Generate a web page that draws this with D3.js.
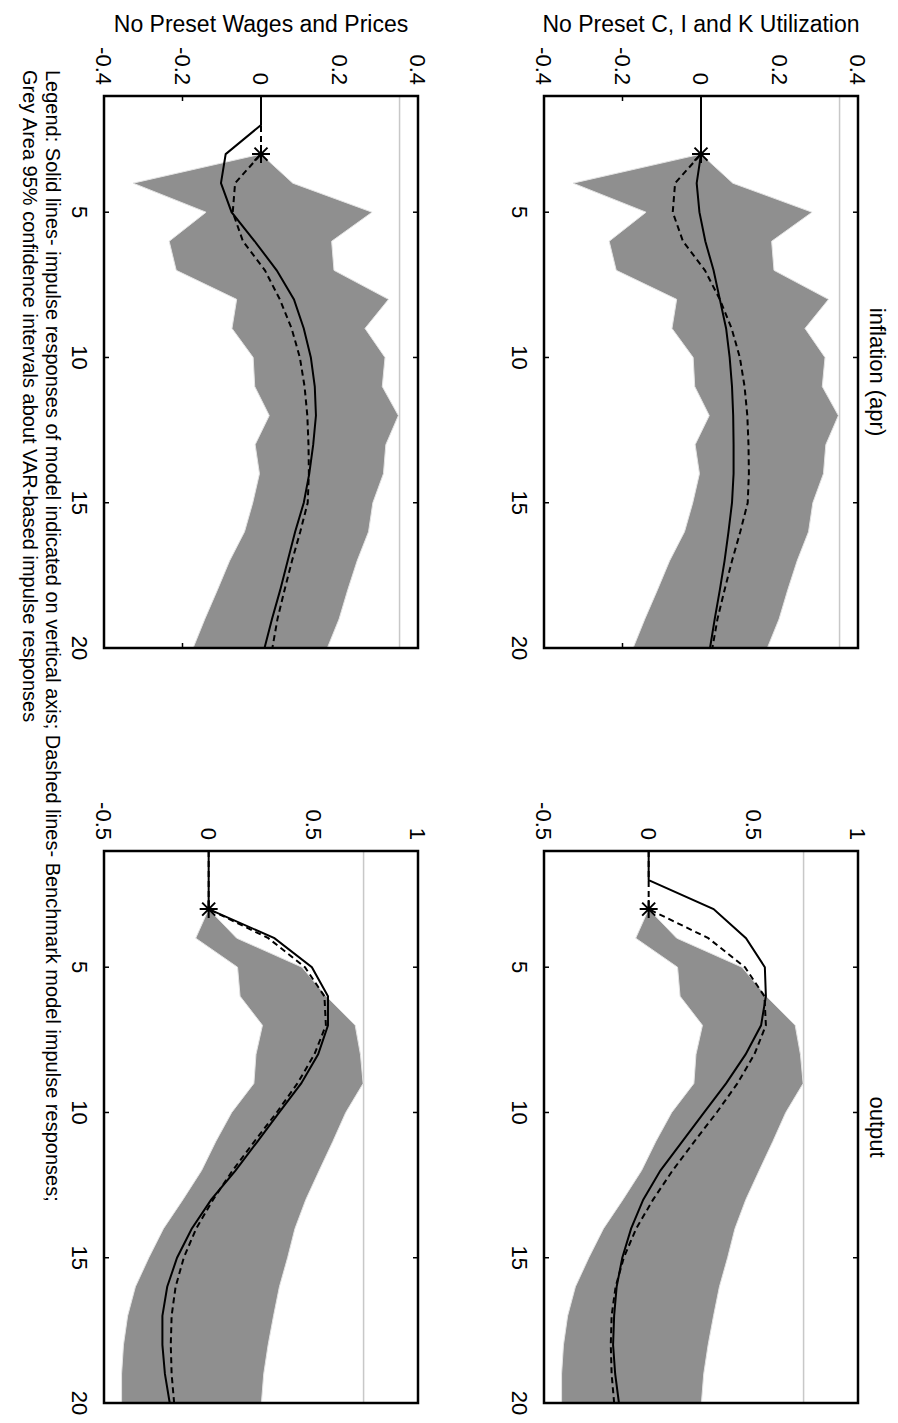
<!DOCTYPE html>
<html>
<head>
<meta charset="utf-8">
<script src="https://cdn.jsdelivr.net/npm/d3@7"></script>
<style>
body { margin: 0; background: #fff; }
svg { display: block; }
text { font-family: "Liberation Sans", Arial, sans-serif; fill: #000; }
</style>
</head>
<body>
<div id="chart"></div>
<script>
// horizons (quarters) on the shock axis
var horizons = [1,2,3,4,5,6,7,8,9,10,11,12,13,14,15,16,17,18,19,20];
var bandHorizons = [3,4,5,6,7,8,9,10,11,12,13,14,15,16,17,18,19,20];

// VAR 95% bands
var inflLower = [0,-0.326,-0.140,-0.234,-0.216,-0.062,-0.074,-0.020,-0.016,0.021,-0.015,-0.004,-0.021,-0.042,-0.080,-0.111,-0.143,-0.173];
var inflUpper = [0,0.081,0.283,0.180,0.186,0.325,0.265,0.316,0.309,0.350,0.318,0.312,0.285,0.274,0.245,0.221,0.199,0.169];
var outLower = [0,-0.062,0.138,0.150,0.257,0.226,0.216,0.110,0.034,-0.034,-0.123,-0.216,-0.286,-0.350,-0.387,-0.407,-0.416,-0.416];
var outUpper = [0,0.134,0.446,0.562,0.700,0.725,0.738,0.655,0.593,0.528,0.464,0.412,0.377,0.338,0.310,0.284,0.263,0.252];

// benchmark model (dashed)
var inflBench = [0,0,0,-0.066,-0.072,-0.046,0.010,0.048,0.078,0.099,0.111,0.118,0.121,0.122,0.119,0.100,0.079,0.060,0.042,0.029];
var outBench = [0,0,0,0.285,0.460,0.553,0.560,0.505,0.424,0.325,0.218,0.114,0.021,-0.060,-0.119,-0.158,-0.177,-0.181,-0.177,-0.165];

// alternative models (solid)
var inflCIK = [0,0,0,-0.011,-0.004,0.011,0.032,0.048,0.064,0.073,0.079,0.082,0.083,0.083,0.079,0.070,0.060,0.048,0.035,0.023];
var outCIK = [0,0,0.310,0.465,0.555,0.560,0.537,0.463,0.370,0.265,0.160,0.056,-0.026,-0.084,-0.126,-0.153,-0.165,-0.170,-0.160,-0.142];
var inflWP = [0,0,-0.090,-0.102,-0.075,-0.016,0.040,0.084,0.109,0.127,0.137,0.140,0.133,0.123,0.109,0.087,0.068,0.049,0.028,0.009];
var outWP = [0,0,0,0.314,0.493,0.570,0.570,0.523,0.442,0.337,0.233,0.128,0.012,-0.081,-0.151,-0.198,-0.221,-0.221,-0.209,-0.186];

var inflTicks = [-0.4,-0.2,0,0.2,0.4];
var outTicks = [-0.5,0,0.5,1];
var horizonTicks = [5,10,15,20];
var inflRef = 0.353, outRef = 0.74;

var W = 898, H = 1423;
var svg = d3.select("#chart").append("svg")
    .attr("width", W)
    .attr("height", H)

var panelW = 314, panelH = 552;
var colLeft = {wp: 104, cik: 544};
var rowTop = {infl: 96, out: 851};

var panels = [
  {model: "cik", v: "infl", lo: inflLower, hi: inflUpper, bench: inflBench, alt: inflCIK, dom: [-0.4,0.4], ticks: inflTicks, ref: inflRef, marks: [-0.2]},
  {model: "wp", v: "infl", lo: inflLower, hi: inflUpper, bench: inflBench, alt: inflWP, dom: [-0.4,0.4], ticks: inflTicks, ref: inflRef, marks: [-0.2]},
  {model: "cik", v: "out", lo: outLower, hi: outUpper, bench: outBench, alt: outCIK, dom: [-0.5,1], ticks: outTicks, ref: outRef, marks: []},
  {model: "wp", v: "out", lo: outLower, hi: outUpper, bench: outBench, alt: outWP, dom: [-0.5,1], ticks: outTicks, ref: outRef, marks: []}
];

panels.forEach(function(p) {
  var left = colLeft[p.model], top = rowTop[p.v];
  var x = d3.scaleLinear().domain(p.dom).range([left, left + panelW]);
  var y = d3.scaleLinear().domain([1, 20]).range([top, top + panelH]);
  var g = svg.append("g");

  // light reference line
  g.append("line")
    .attr("x1", x(p.ref)).attr("x2", x(p.ref))
    .attr("y1", top).attr("y2", top + panelH)
    .style("stroke", "#c8c8c8").style("stroke-width", 1.5)

  // inward tick marks
  horizonTicks.slice(0, 3).forEach(function(h) {
    g.append("line").attr("x1", left).attr("x2", left + 5).attr("y1", y(h)).attr("y2", y(h)).style("stroke", "#000").style("stroke-width", 1.5)
    g.append("line").attr("x1", left + panelW).attr("x2", left + panelW - 5).attr("y1", y(h)).attr("y2", y(h)).style("stroke", "#000").style("stroke-width", 1.5)
  });
  p.marks.forEach(function(v) {
    g.append("line").attr("x1", x(v)).attr("x2", x(v)).attr("y1", top).attr("y2", top + 5).style("stroke", "#000").style("stroke-width", 1.5)
    g.append("line").attr("x1", x(v)).attr("x2", x(v)).attr("y1", top + panelH).attr("y2", top + panelH - 5).style("stroke", "#000").style("stroke-width", 1.5)
  });

  // confidence band
  var pts = bandHorizons.map(function(h, i) { return [x(p.hi[i]), y(h)]; })
    .concat(bandHorizons.map(function(h, i) { return [x(p.lo[i]), y(h)]; }).reverse());
  g.append("path")
    .attr("d", d3.line()(pts) + "Z")
    .style("fill", "#8f8f8f")
    .style("stroke", "#e4e4e4")
    .style("stroke-width", 1)

  var line = d3.line()
    .x(function(d) { return x(d[1]); })
    .y(function(d) { return y(d[0]); });

  g.append("path")
    .attr("d", line(horizons.map(function(h, i) { return [h, p.bench[i]]; })))
    .style("fill", "none").style("stroke", "#000").style("stroke-width", 2)
    .style("stroke-dasharray", "6,4")

  g.append("path")
    .attr("d", line(horizons.map(function(h, i) { return [h, p.alt[i]]; })))
    .style("fill", "none").style("stroke", "#000").style("stroke-width", 2)

  // asterisk marker at impact of benchmark
  var sx = x(p.bench[2]), sy = y(horizons[2]), r = 9, r2 = 6.5;
  g.append("path")
    .attr("d", "M" + (sx - r) + "," + sy + "H" + (sx + r) +
               "M" + sx + "," + (sy - r) + "V" + (sy + r) +
               "M" + (sx - r2) + "," + (sy - r2) + "L" + (sx + r2) + "," + (sy + r2) +
               "M" + (sx - r2) + "," + (sy + r2) + "L" + (sx + r2) + "," + (sy - r2))
    .style("stroke", "#000").style("stroke-width", 2)

  // box
  g.append("rect")
    .attr("x", left).attr("y", top)
    .attr("width", panelW).attr("height", panelH)
    .style("fill", "none").style("stroke", "#000").style("stroke-width", 2.5)

  // value tick labels (rotated, above the box)
  p.ticks.forEach(function(v) {
    g.append("text")
      .attr("transform", "translate(" + x(v) + "," + (top - 11) + ") rotate(90)")
      .attr("text-anchor", "end")
      .attr("dy", "0.35em")
      .style("font-size", "22px")
      .text(String(v))
  });

  // horizon tick labels (rotated, left of the box)
  horizonTicks.forEach(function(h) {
    g.append("text")
      .attr("transform", "translate(" + (left - 32) + "," + y(h) + ") rotate(90)")
      .attr("text-anchor", "middle")
      .style("font-size", "22px")
      .text(String(h))
  });
});

// row titles (horizontal) and variable titles (rotated)
var rowTitles = [["No Preset C, I and K Utilization", "cik"], ["No Preset Wages and Prices", "wp"]];
rowTitles.forEach(function(t) {
  svg.append("text")
    .attr("x", colLeft[t[1]] + panelW / 2)
    .attr("y", 32)
    .attr("text-anchor", "middle")
    .style("font-size", "23px")
    .text(t[0])
});

var varTitles = [["inflation (apr)", "infl"], ["output", "out"]];
varTitles.forEach(function(t) {
  svg.append("text")
    .attr("transform", "translate(870," + (rowTop[t[1]] + panelH / 2) + ") rotate(90)")
    .attr("text-anchor", "middle")
    .style("font-size", "22px")
    .text(t[0])
});

var legendLines = [
  "Legend: Solid lines- impulse responses of model indicated on vertical axis; Dashed lines- Benchmark model impulse responses;",
  "Grey Area 95% confidence intervals about VAR-based impulse responses"
];
legendLines.forEach(function(s, i) {
  svg.append("text")
    .attr("transform", "translate(" + (46 - i * 23) + ",70) rotate(90)")
    .attr("text-anchor", "start")
    .style("font-size", "20px")
    .text(s)
});
</script>
</body>
</html>
